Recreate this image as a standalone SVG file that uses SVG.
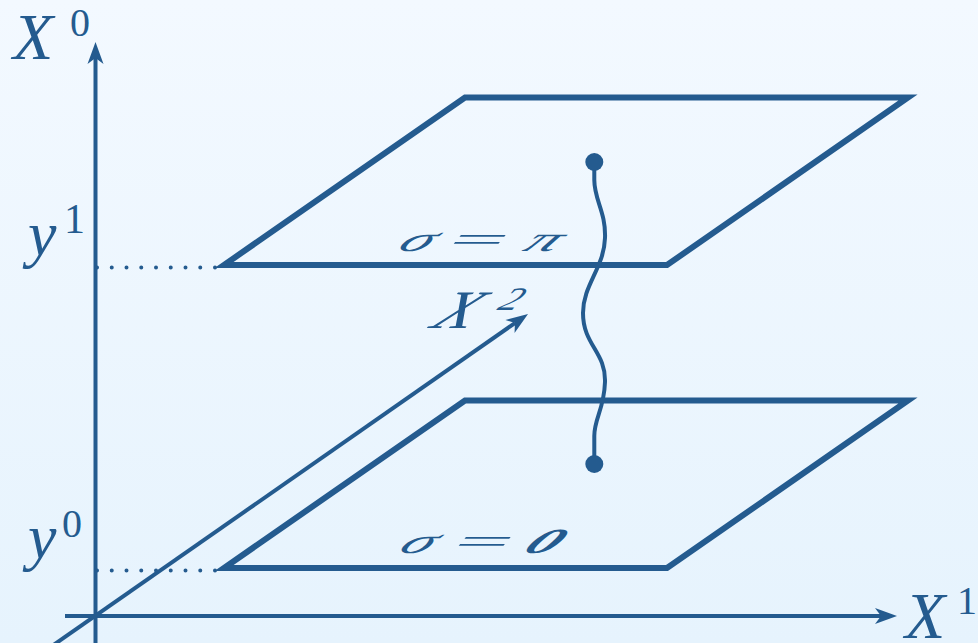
<svg xmlns="http://www.w3.org/2000/svg" width="978" height="643" viewBox="0 0 978 643">
  <defs>
    <linearGradient id="bg" x1="0" y1="0" x2="0" y2="1">
      <stop offset="0" stop-color="#f3f9ff"/>
      <stop offset="1" stop-color="#e6f3fd"/>
    </linearGradient>
    <marker id="arr" markerUnits="userSpaceOnUse" viewBox="0 0 22 16" markerWidth="22" markerHeight="16" refX="6" refY="8" orient="auto" overflow="visible">
      <path d="M0,0 L22,8 L0,16 L6,8 Z" fill="#245b8f"/>
    </marker>
    <style>
      .ax { stroke:#245b8f; stroke-width:4; fill:none; }
      .pl { stroke:#245b8f; stroke-width:6; fill:none; stroke-linejoin:miter; stroke-miterlimit:10; }
      .dot { stroke:#245b8f; stroke-width:4; fill:none; stroke-linecap:round; stroke-dasharray:0 14.75; }
      .str { stroke:#245b8f; stroke-width:4; fill:none; stroke-linecap:round; }
      .lbl { fill:#245b8f; font-family:"Liberation Serif","DejaVu Serif",serif; }
      .it { font-style:italic; }
    </style>
  </defs>
  <rect width="978" height="643" fill="url(#bg)"/>

  <g id="connectors">
    <path id="axis-x0" class="ax" d="M95.5,643 V58" marker-end="url(#arr)"/>
    <path id="axis-x1" class="ax" d="M65,616 H881" marker-end="url(#arr)"/>
    <path id="axis-x2" class="ax" d="M52,646 L514.9,323.1" marker-end="url(#arr)"/>
    <path id="dots-y1" class="dot" d="M97,267.5 H215.5"/>
    <path id="dots-y0" class="dot" d="M97,570.5 H215.5"/>
  </g>

  <g id="plane-top">
    <path class="pl" d="M224,265 L667,265 L908,97.5 L465,97.5 Z"/>
    <g class="lbl it" font-size="64" transform="matrix(1,0,-0.45,0.55,395,251)">
      <text x="0" y="0">σ</text>
      <text transform="translate(75,0) scale(1.5,1)" text-anchor="middle" font-style="normal">=</text>
      <text x="142" y="0" text-anchor="middle">π</text>
    </g>
  </g>

  <g id="plane-bottom">
    <path class="pl" d="M224,568 L667,568 L908,400.5 L465,400.5 Z"/>
    <g class="lbl it" font-size="64" transform="matrix(1,0,-0.45,0.55,396,553)">
      <text x="0" y="0">σ</text>
      <text transform="translate(79,0) scale(1.5,1)" text-anchor="middle" font-style="normal">=</text>
      <text x="141" y="0" text-anchor="middle" font-weight="bold">0</text>
    </g>
  </g>

  <g id="string">
    <path class="str" d="M594.3,163 L594.3,180 C594.3,200 606,212 605,238 C604,268 583,285 583,313 C583,345 606,352 605,382 C604,410 594.3,418 594.3,436 L594.3,463"/>
    <circle cx="594.3" cy="162" r="9" fill="#245b8f"/>
    <circle cx="594.3" cy="464" r="9" fill="#245b8f"/>
  </g>

  <g id="label-X0" class="lbl">
    <text class="it" x="13" y="59" font-size="66">X</text>
    <text x="70" y="36" font-size="40">0</text>
  </g>
  <g id="label-X1" class="lbl">
    <text class="it" x="905" y="638" font-size="66">X</text>
    <text x="957" y="614" font-size="40">1</text>
  </g>
  <g id="label-X2" class="lbl" transform="matrix(1,0,-0.5,0.82,427,328)">
    <text class="it" x="2" y="0" font-size="66">X</text>
    <text class="it" x="58" y="-22" font-size="40">2</text>
  </g>
  <g id="label-y1" class="lbl">
    <text class="it" x="28" y="255" font-size="64">y</text>
    <text x="64" y="233" font-size="42">1</text>
  </g>
  <g id="label-y0" class="lbl">
    <text class="it" x="28" y="558" font-size="64">y</text>
    <text x="62" y="537" font-size="40">0</text>
  </g>
</svg>
